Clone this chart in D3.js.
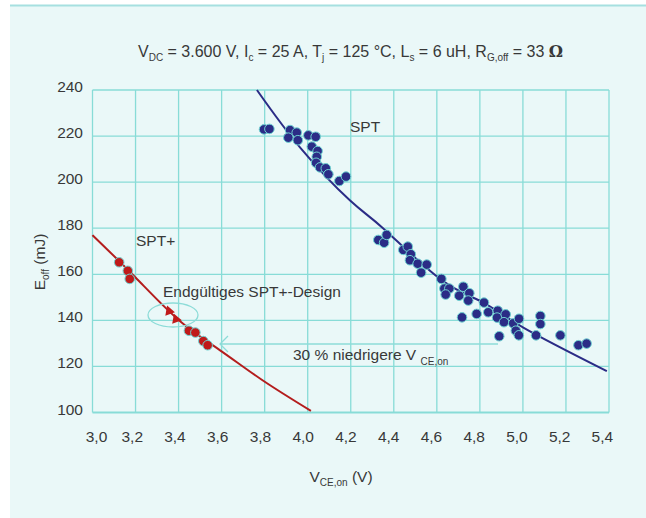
<!DOCTYPE html>
<html>
<head>
<meta charset="utf-8">
<script src="https://cdn.jsdelivr.net/npm/d3@7"></script>
<style>
  body { margin: 0; background: #fff; }
  text { font-family: "Liberation Sans", Arial, sans-serif; fill: #383838; }
</style>
</head>
<body>
<div id="main"></div>
<script>
// measured points, SPT (blue) and SPT+ (red)
var sptV = [3.797, 3.822, 3.918, 3.949, 3.910, 3.954, 4.003, 4.037, 4.019, 4.046, 4.042, 4.039, 4.057, 4.084, 4.096, 4.147, 4.178,
  4.328, 4.355, 4.367, 4.444, 4.465, 4.479, 4.475, 4.511, 4.553, 4.527, 4.621,
  4.635, 4.658, 4.641, 4.723, 4.704, 4.751, 4.746, 4.717, 4.785, 4.819, 4.839, 4.883, 4.880, 4.920, 4.912, 4.955, 4.982, 4.967, 4.981, 4.890,
  5.061, 5.081, 5.081, 5.174, 5.258, 5.296];
var sptE = [222.9, 223.1, 222.6, 221.5, 219.3, 218.2, 220.3, 219.7, 215.4, 213.5, 211.0, 208.4, 206.4, 206.0, 203.4, 200.5, 202.4,
  174.9, 173.7, 177.1, 170.6, 172.0, 168.7, 166.1, 164.6, 164.2, 160.7, 158.0,
  153.8, 153.8, 151.2, 154.6, 150.7, 151.8, 148.6, 141.3, 142.8, 147.7, 143.5, 144.2, 141.2, 142.6, 139.2, 138.7, 140.7, 135.5, 133.5, 133.1,
  133.5, 141.9, 138.4, 133.5, 129.2, 129.9];
var sptPlusV = [3.124, 3.164, 3.173, 3.448, 3.478, 3.515, 3.535];
var sptPlusE = [165.2, 161.5, 158.0, 135.5, 134.7, 131.0, 129.2];
// final design (triangles)
var finalV = [3.356, 3.388];
var finalE = [144.0, 140.5];

// trend lines
var sptFitV = [3.764, 3.965, 4.197, 4.35, 4.615, 4.81, 5.0, 5.39];
var sptFitE = [240, 215, 192, 180, 158, 148, 137, 118];
var plusFitV = [3.0, 3.2, 3.4, 3.593, 3.79, 4.015];
var plusFitE = [177, 158.6, 140.2, 127, 114, 100.7];

var xTicks = [3.0, 3.2, 3.4, 3.6, 3.8, 4.0, 4.2, 4.4, 4.6, 4.8, 5.0, 5.2, 5.4];
var yTicks = [100, 120, 140, 160, 180, 200, 220, 240];

var width = 646, height = 518;
var plotL = 92.5, plotR = 609, plotT = 90, plotB = 412.5;
var fs = 15.5, subFs = 10;

var svg = d3.select('#main').append('svg')
  .attr('width', width).attr('height', height);

// panel background
svg.append('rect').attr('x', 10).attr('y', 5).attr('width', width - 10).attr('height', height - 5)
  .attr('fill', '#eaf8f8');
svg.append('line').attr('x1', 10).attr('x2', width).attr('y1', 5.5).attr('y2', 5.5)
  .attr('stroke', '#a6e0e0').attr('stroke-width', 2);

var x = d3.scaleLinear().domain([3.0, 5.4]).range([plotL, plotR]);
var y = d3.scaleLinear().domain([100, 240]).range([plotB, plotT]);

var grid = '#88dcd7';
svg.append('g').selectAll('line').data(xTicks).enter().append('line')
  .attr('x1', d => x(d)).attr('x2', d => x(d)).attr('y1', plotT).attr('y2', plotB)
  .attr('stroke', grid).attr('stroke-width', 1.3);
svg.append('g').selectAll('line').data(yTicks).enter().append('line')
  .attr('x1', plotL).attr('x2', plotR).attr('y1', d => y(d)).attr('y2', d => y(d))
  .attr('stroke', grid).attr('stroke-width', d => d === 100 ? 2 : 1.3);

// tick labels
svg.append('g').selectAll('text').data(xTicks).enter().append('text')
  .attr('x', (d, i) => x(d) + (i === 0 ? 4 : -3 - i * 0.3))
  .attr('y', 442)
  .attr('text-anchor', 'middle').attr('font-size', fs)
  .text(d => d3.format('.1f')(d).replace('.', ','));
svg.append('g').selectAll('text').data(yTicks).enter().append('text')
  .attr('x', 83).attr('y', d => y(d) + 2)
  .attr('text-anchor', 'end').attr('font-size', fs)
  .text(d => d);

// fit curves
var line = d3.line().x(d => x(d[0])).y(d => y(d[1])).curve(d3.curveNatural);
svg.append('path').datum(d3.zip(sptFitV, sptFitE))
  .attr('d', line).attr('fill', 'none').attr('stroke', '#2b2c86').attr('stroke-width', 2);
svg.append('path').datum(d3.zip(plusFitV, plusFitE))
  .attr('d', line).attr('fill', 'none').attr('stroke', '#b41d1d').attr('stroke-width', 2);

// points
svg.append('g').selectAll('circle').data(d3.zip(sptV, sptE)).enter().append('circle')
  .attr('cx', d => x(d[0])).attr('cy', d => y(d[1])).attr('r', 4.8)
  .attr('fill', '#2b2c86').attr('stroke', '#6fd2d2').attr('stroke-width', 1);
svg.append('g').selectAll('circle').data(d3.zip(sptPlusV, sptPlusE)).enter().append('circle')
  .attr('cx', d => x(d[0])).attr('cy', d => y(d[1])).attr('r', 4.8)
  .attr('fill', '#c01a1a').attr('stroke', '#6fd2d2').attr('stroke-width', 1);
svg.append('g').selectAll('path').data(d3.zip(finalV, finalE)).enter().append('path')
  .attr('d', d3.symbol().type(d3.symbolTriangle).size(45))
  .attr('transform', d => 'translate(' + x(d[0]) + ',' + y(d[1]) + ') rotate(100)')
  .attr('fill', '#c01a1a');

// annotations
svg.append('ellipse').attr('cx', 173).attr('cy', 315).attr('rx', 25).attr('ry', 12)
  .attr('fill', 'none').attr('stroke', '#8ddcd8').attr('stroke-width', 1.3);
svg.append('text').attr('x', 163).attr('y', 297).attr('font-size', fs).text('Endgültiges SPT+-Design');
svg.append('text').attr('x', 350).attr('y', 132).attr('font-size', fs).text('SPT');
svg.append('text').attr('x', 136).attr('y', 246).attr('font-size', fs).text('SPT+');

svg.append('line').attr('x1', 220).attr('x2', 498).attr('y1', 344).attr('y2', 344)
  .attr('stroke', '#8ddcd8').attr('stroke-width', 1.3);
svg.append('path').attr('d', 'M228,336 L220,344 L228,352')
  .attr('fill', 'none').attr('stroke', '#8ddcd8').attr('stroke-width', 1.3);
var ann = svg.append('text').attr('x', 293).attr('y', 360).attr('font-size', fs);
ann.append('tspan').text('30 % niedrigere V ');
ann.append('tspan').attr('font-size', subFs).attr('dy', 5).text('CE,on');

// title
var title = svg.append('text').attr('x', 138).attr('y', 57).attr('font-size', 16);
title.append('tspan').text('V');
title.append('tspan').attr('font-size', subFs).attr('dy', 4).text('DC');
title.append('tspan').attr('dy', -4).text(' = 3.600 V, I');
title.append('tspan').attr('font-size', subFs).attr('dy', 4).text('c');
title.append('tspan').attr('dy', -4).text(' = 25 A, T');
title.append('tspan').attr('font-size', subFs).attr('dy', 4).text('j');
title.append('tspan').attr('dy', -4).text(' = 125 °C, L');
title.append('tspan').attr('font-size', subFs).attr('dy', 4).text('s');
title.append('tspan').attr('dy', -4).text(' = 6 uH, R');
title.append('tspan').attr('font-size', subFs).attr('dy', 4).text('G,off');
title.append('tspan').attr('dy', -4).text(' = 33 ');
title.append('tspan').attr('font-weight', 'bold').attr('font-family', 'DejaVu Serif').text('Ω');

// axis titles
var xt = svg.append('text').attr('x', 341).attr('y', 482).attr('text-anchor', 'middle').attr('font-size', fs);
xt.append('tspan').text('V');
xt.append('tspan').attr('font-size', subFs).attr('dy', 4).text('CE,on');
xt.append('tspan').attr('dy', -4).text(' (V)');

var yt = svg.append('text').attr('transform', 'translate(45,262) rotate(-90)')
  .attr('text-anchor', 'middle').attr('font-size', fs);
yt.append('tspan').text('E');
yt.append('tspan').attr('font-size', subFs).attr('dy', 4).text('off');
yt.append('tspan').attr('dy', -4).text(' (mJ)');
</script>
</body>
</html>
